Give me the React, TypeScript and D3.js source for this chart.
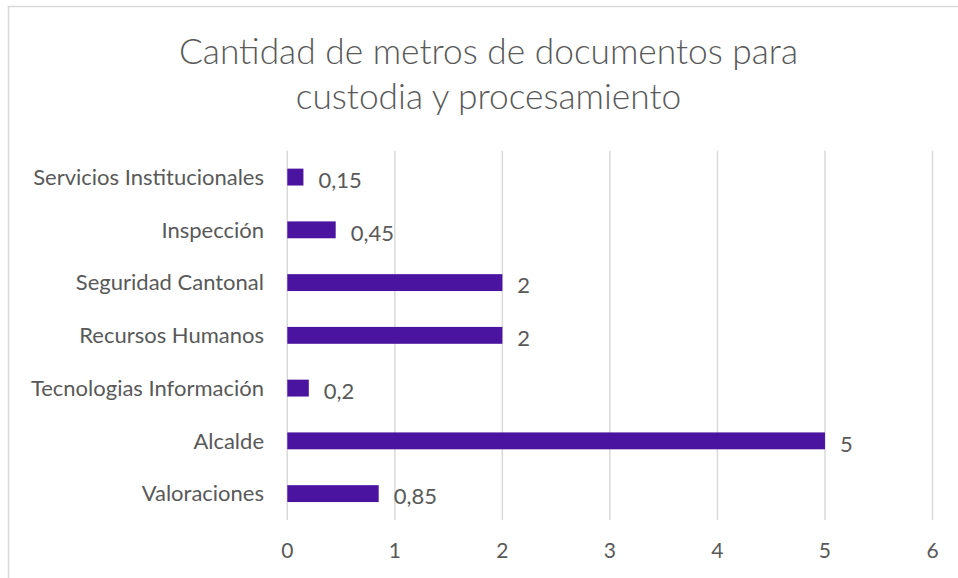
import React from "react";
import * as d3 from "d3";

const categories = [
  "Servicios Institucionales",
  "Inspección",
  "Seguridad Cantonal",
  "Recursos Humanos",
  "Tecnologias Información",
  "Alcalde",
  "Valoraciones",
];
const values = [0.15, 0.45, 2, 2, 0.2, 5, 0.85];
const xTicks = [0, 1, 2, 3, 4, 5, 6];
const titleLines = ["Cantidad de metros de documentos para", "custodia y procesamiento"];

const W = 958;
const H = 578;
const FONT = "Lato, 'Open Sans', sans-serif";
const TEXT = "#595959";
const GRID = "#d9d9d9";
const BAR = "#4b14a0";

export default function App() {
  const x = d3.scaleLinear().domain([0, 6]).range([287.3, 932.5]);
  const y = d3
    .scaleBand<string>()
    .domain(categories)
    .range([150.7, 520])
    .paddingInner(0.68)
    .paddingOuter(0.34);
  const fmt = (v: number) => String(v).replace(".", ",");

  return (
    <svg
      width={W}
      height={H}
      style={{ position: "absolute", left: 0, top: 0, display: "block", background: "#fff" }}
    >
      <rect x={8.5} y={6.5} width={W + 10} height={H + 10} fill="#fff" stroke={GRID} strokeWidth={1.5} />
      {titleLines.map((t, i) => (
        <text
          key={t}
          x={488.5}
          y={64 + i * 45}
          textAnchor="middle"
          fontFamily={FONT}
          fontSize={35.3}
          fontWeight={300}
          fill={TEXT}
        >
          {t}
        </text>
      ))}
      {xTicks.map((t) => (
        <g key={t}>
          <line x1={x(t)} x2={x(t)} y1={150.7} y2={520} stroke={GRID} strokeWidth={1.5} />
          <text
            x={x(t)}
            y={551}
            dy="0.35em"
            textAnchor="middle"
            fontFamily={FONT}
            fontSize={21}
            fill={TEXT}
          >
            {t}
          </text>
        </g>
      ))}
      {categories.map((c, i) => {
        const yy = y(c)!;
        const bw = y.bandwidth();
        return (
          <g key={c}>
            <rect x={x(0)} y={yy} width={x(values[i]) - x(0)} height={bw} fill={BAR} />
            <text
              x={264}
              y={yy + bw / 2}
              dy="0.35em"
              textAnchor="end"
              fontFamily={FONT}
              fontSize={22}
              fill={TEXT}
            >
              {c}
            </text>
            <text
              x={x(values[i]) + 15}
              y={yy + bw / 2 + 3}
              dy="0.35em"
              textAnchor="start"
              fontFamily={FONT}
              fontSize={22}
              fill={TEXT}
            >
              {fmt(values[i])}
            </text>
          </g>
        );
      })}
    </svg>
  );
}
